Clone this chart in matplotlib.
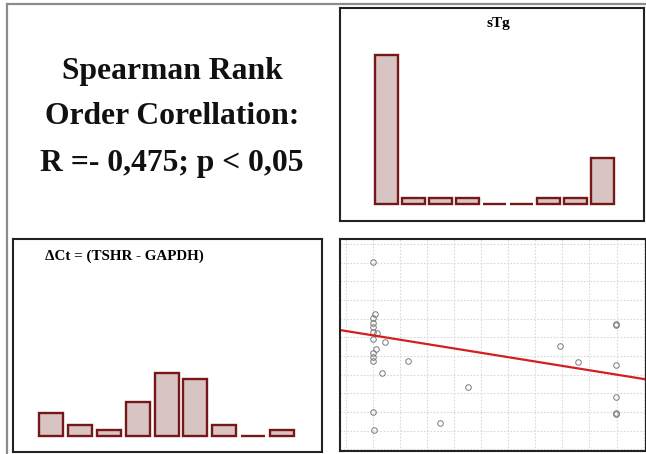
import matplotlib
matplotlib.use("Agg")
import matplotlib.pyplot as plt
from matplotlib.lines import Line2D
import numpy as np

# ---------------- data ----------------
title_lines = ["Spearman Rank", "Order Corellation:", "R =- 0,475; p < 0,05"]

stg_title = "sTg"
stg_counts = [26, 1, 1, 1, 0, 0, 1, 1, 8]

dct_title = "\u0394Ct = (TSHR - GAPDH)"
dct_counts = [4, 2, 1, 6, 11, 10, 2, 0, 1]

scatter_x = [0, 0.08, 0, 0, 0, 0, 0.15, 0, 0.45, 0.11, 0, 0, 0, 1.29, 0.35,
             0, 0.04, 2.48, 3.5, 6.9, 7.59, 8.98, 8.98, 8.98, 8.98, 8.98, 8.98]
scatter_y = [9.05, 6.25, 6.02, 5.78, 5.54, 5.30, 5.25, 4.90, 4.75, 4.36, 4.18,
             3.96, 3.75, 3.75, 3.07, 1.02, 0.04, 0.43, 2.32, 4.52, 3.68, 5.70,
             5.66, 3.52, 1.79, 0.93, 0.88]
fit_intercept = 5.11
fit_slope = -0.234

# ---------------- figure ----------------
W, H = 646, 454
fig = plt.figure(figsize=(W / 100, H / 100), dpi=100)
fig.patch.set_facecolor("white")

def rect(x0, y0, x1, y1):
    return [x0 / W, 1 - y1 / H, (x1 - x0) / W, (y1 - y0) / H]

serif = ["Liberation Serif", "DejaVu Serif"]
bar_face = "#d8c5c3"
bar_edge = "#761818"

# outer gray frame lines
fig.add_artist(Line2D([7 / W, 7 / W], [0, 1 - 4 / H], color="#8c8c8c", lw=1.6,
                      transform=fig.transFigure))
fig.add_artist(Line2D([7 / W, 1], [1 - 4 / H, 1 - 4 / H], color="#8c8c8c", lw=1.6,
                      transform=fig.transFigure))

# big text
for i, (t, yc) in enumerate(zip(title_lines, [71, 117, 164])):
    fig.text(172 / W, 1 - yc / H, t, ha="center", va="center",
             fontsize=22.8, fontweight="bold", family=serif, color="#111111")

def style_box(ax):
    for s in ax.spines.values():
        s.set_linewidth(1.5)
        s.set_color("#222222")
    ax.set_xticks([])
    ax.set_yticks([])

# sTg histogram
ax1 = fig.add_axes(rect(340, 8, 644, 221))
pos = np.arange(len(stg_counts))
ax1.bar(pos, stg_counts, width=0.85, color=bar_face, edgecolor=bar_edge, linewidth=1.7)
ax1.set_xlim(-1.72, 9.52)
ax1.set_ylim(-2.96, 34.1)
style_box(ax1)
ax1.text(0.52, 1 - 15 / 213, stg_title, transform=ax1.transAxes, ha="center",
         va="center", fontsize=11, fontweight="bold", family=serif)

# dCt histogram
ax2 = fig.add_axes(rect(13, 239, 322, 452))
pos2 = np.arange(len(dct_counts))
ax2.bar(pos2, dct_counts, width=0.83, color=bar_face, edgecolor=bar_edge, linewidth=1.7)
ax2.set_xlim(-1.315, 9.38)
ax2.set_ylim(-2.78, 34.26)
style_box(ax2)
ax2.text(32 / 309, 1 - 17 / 213, dct_title, transform=ax2.transAxes, ha="left",
         va="center", fontsize=10.8, fontweight="bold", family=serif)

# scatter
ax3 = fig.add_axes(rect(340, 239, 646, 451))
ax3.set_xlim(-1.207, 10.085)
ax3.set_ylim(-1.087, 10.27)
ax3.set_xticks(np.arange(-1, 11))
ax3.set_yticks(np.arange(-1, 11))
ax3.grid(True, color="#d9d9d9", linestyle=(0, (1.5, 1.5)), linewidth=0.8)
ax3.tick_params(length=0, labelleft=False, labelbottom=False)
for s in ax3.spines.values():
    s.set_linewidth(1.5)
    s.set_color("#222222")
ax3.plot(scatter_x, scatter_y, linestyle="none", marker="o", markersize=4,
         markerfacecolor="none", markeredgecolor="#7a7a7a", markeredgewidth=0.7)
xl = np.array(ax3.get_xlim())
ax3.plot(xl, fit_intercept + fit_slope * xl, color="#d41f1f", lw=1.6)

fig.savefig("out.png", dpi=100)
